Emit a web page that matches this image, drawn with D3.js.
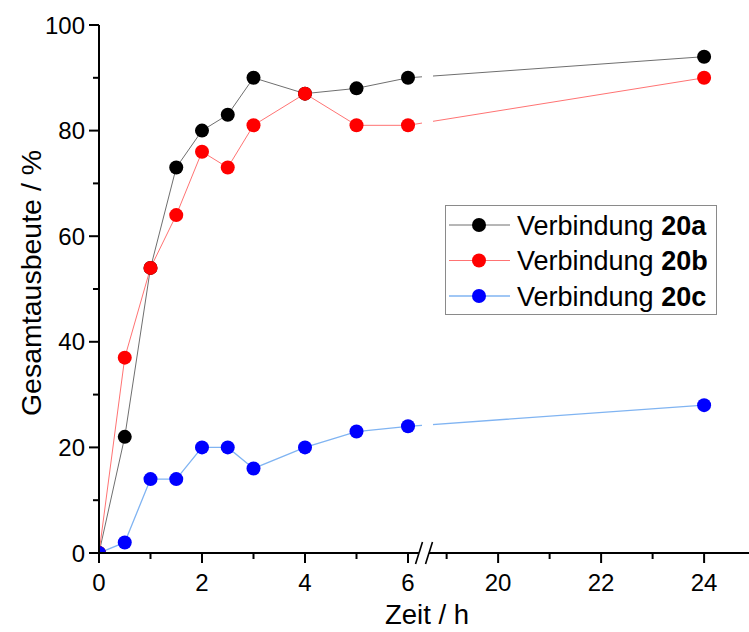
<!DOCTYPE html>
<html><head><meta charset="utf-8">
<script src="https://cdn.jsdelivr.net/npm/d3@7"></script>
<style>body{margin:0;background:#fff}svg{display:block;font-family:"Liberation Sans",Arial,sans-serif}</style>
</head><body><svg id="c" width="749" height="632"></svg>
<script>
const times = [0, 0.5, 1, 1.5, 2, 2.5, 3, 4, 5, 6, 24];
const series20a = [0, 22, 54, 73, 80, 83, 90, 87, 88, 90, 94];
const series20b = [0, 37, 54, 64, 76, 73, 81, 87, 81, 81, 90];
const series20c = [0, 2, 14, 14, 20, 20, 16, 20, 23, 24, 28];
const seriesNames = ["20a", "20b", "20c"];
const xMajorTicks = [0, 2, 4, 6, 20, 22, 24];
const xMinorTicks = [1, 3, 5, 19, 21, 23];
const yMajorTicks = [0, 20, 40, 60, 80, 100];
const yMinorTicks = [10, 30, 50, 70, 90];

const svg = d3.select("#c");
const x = d3.scaleLinear().domain([0, 6.4, 18.65, 25]).range([99, 428.6, 428.6, 755.6]);
const y = d3.scaleLinear().domain([0, 100]).range([553, 25]);

const styles = [
  {line: "#6f6f6f", fill: "#000000", w: 1},
  {line: "#ff7373", fill: "#ff0000", w: 1},
  {line: "#80b4f2", fill: "#0000ff", w: 1.3}
];
const data = [series20a, series20b, series20c];

const bc = 423.5; // break centre in px
svg.append("clipPath").attr("id", "clip").append("rect")
  .attr("x", 99).attr("y", 0).attr("width", 700).attr("height", 553);
const lc = svg.append("clipPath").attr("id", "lclip");
lc.append("rect").attr("x", 99).attr("y", 0).attr("width", bc - 1.5 - 99).attr("height", 553);
lc.append("rect").attr("x", bc + 9.5).attr("y", 0).attr("width", 400).attr("height", 553);

const lines = svg.append("g").attr("clip-path", "url(#lclip)");
const plot = svg.append("g").attr("clip-path", "url(#clip)");
const line = d3.line().x((d, i) => x(times[i])).y(d => y(d));
data.forEach((s, k) => {
  lines.append("path").datum(s).attr("d", line).attr("fill", "none")
    .attr("stroke", styles[k].line).attr("stroke-width", styles[k].w);
});
data.forEach((s, k) => {
  plot.selectAll(null).data(s).join("circle")
    .attr("cx", (d, i) => x(times[i])).attr("cy", d => y(d)).attr("r", 7)
    .attr("fill", styles[k].fill);
});

// axes
const axG = svg.append("g").attr("stroke", "#000").attr("fill", "none");
axG.append("line").attr("x1", 99).attr("x2", 99).attr("y1", y(100)).attr("y2", 554).attr("stroke-width", 2);
axG.append("line").attr("x1", 98).attr("x2", 749).attr("y1", 553).attr("y2", 553).attr("stroke-width", 2);
yMajorTicks.forEach(t => axG.append("line").attr("x1", 89).attr("x2", 99).attr("y1", y(t)).attr("y2", y(t)).attr("stroke-width", 2));
yMinorTicks.forEach(t => axG.append("line").attr("x1", 93).attr("x2", 99).attr("y1", y(t)).attr("y2", y(t)).attr("stroke-width", 2));
xMajorTicks.forEach(t => axG.append("line").attr("x1", x(t)).attr("x2", x(t)).attr("y1", 553).attr("y2", 563).attr("stroke-width", 2));
xMinorTicks.forEach(t => axG.append("line").attr("x1", x(t)).attr("x2", x(t)).attr("y1", 553).attr("y2", 559).attr("stroke-width", 2));

// break marks
svg.append("polygon").attr("points", `${bc-8},564 ${bc+2},564 ${bc+9},542 ${bc-1},542`).attr("fill", "#fff");
[[-8, -1], [2, 9]].forEach(([a, b]) => {
  svg.append("line").attr("x1", bc + a).attr("y1", 564).attr("x2", bc + b).attr("y2", 542)
    .attr("stroke", "#000").attr("stroke-width", 1.6);
});

// tick labels
svg.selectAll(null).data(yMajorTicks).join("text")
  .attr("x", 85).attr("y", d => y(d)).attr("dy", "0.36em").attr("text-anchor", "end")
  .attr("font-size", 24).text(d => d);
svg.selectAll(null).data(xMajorTicks).join("text")
  .attr("x", d => x(d)).attr("y", 591).attr("text-anchor", "middle")
  .attr("font-size", 24).text(d => d);

// titles
svg.append("text").attr("x", 427).attr("y", 624).attr("text-anchor", "middle").attr("font-size", 27.5).text("Zeit / h");
svg.append("text").attr("transform", "translate(41,283) rotate(-90)").attr("text-anchor", "middle")
  .attr("font-size", 28.5).text("Gesamtausbeute / %");

// legend
const lg = svg.append("g");
lg.append("rect").attr("x", 445.5).attr("y", 205.5).attr("width", 271).attr("height", 109)
  .attr("fill", "#fff").attr("stroke", "#8a8a8a").attr("stroke-width", 1);
seriesNames.forEach((n, k) => {
  const yy = 225 + k * 35.5;
  lg.append("line").attr("x1", 449).attr("x2", 510).attr("y1", yy).attr("y2", yy)
    .attr("stroke", styles[k].line).attr("stroke-width", styles[k].w);
  lg.append("circle").attr("cx", 479).attr("cy", yy).attr("r", 7).attr("fill", styles[k].fill);
  const t = lg.append("text").attr("x", 517).attr("y", yy).attr("dy", "0.36em").attr("font-size", 27);
  t.append("tspan").text("Verbindung ");
  t.append("tspan").attr("font-weight", "bold").text(n);
});
</script></body></html>
